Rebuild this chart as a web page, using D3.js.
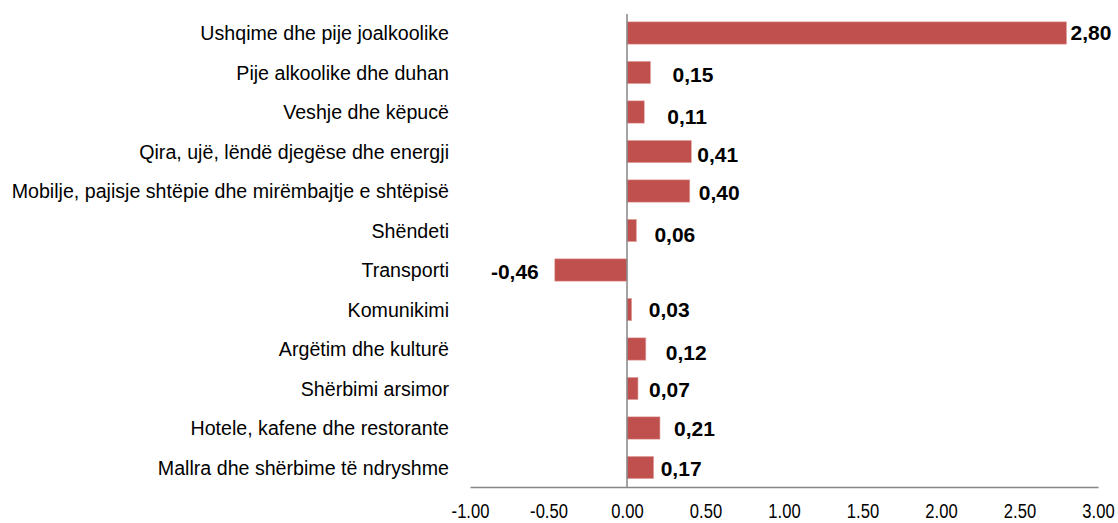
<!DOCTYPE html>
<html lang="sq">
	<head>
		<meta charset="utf-8">
		<title>Kontributi</title>
		<script src="https://cdn.jsdelivr.net/npm/d3@7"></script>
		<style>
			body { margin: 0; background: white; }
			svg { display: block; }
			.cat, .tick text { font-family: "Liberation Sans Narrow", "Arial Narrow", "Liberation Sans", Arial, sans-serif; fill: #000; }
			.val { font-family: "Liberation Sans", Arial, sans-serif; font-weight: bold; font-size: 21px; fill: #000; }
		</style>
	</head>
	<body>
		<script>
			var categories = [
				"Ushqime dhe pije joalkoolike",
				"Pije alkoolike dhe duhan",
				"Veshje dhe këpucë",
				"Qira, ujë, lëndë djegëse dhe energji",
				"Mobilje, pajisje shtëpie dhe mirëmbajtje e shtëpisë",
				"Shëndeti",
				"Transporti",
				"Komunikimi",
				"Argëtim dhe kulturë",
				"Shërbimi arsimor",
				"Hotele, kafene dhe restorante",
				"Mallra dhe shërbime të ndryshme"
			];
			var values = [2.80, 0.15, 0.11, 0.41, 0.40, 0.06, -0.46, 0.03, 0.12, 0.07, 0.21, 0.17];
			var ticks = [-1, -0.5, 0, 0.5, 1, 1.5, 2, 2.5, 3];

			// hand-placed label nudges in the original (dx from bar end, dy from bar middle)
			var nudgeX = [4, 22, 23, 6, 9, 18, -16, 17, 20, 11, 14, 7];
			var nudgeY = [0, 2.5, 5, 3, 2, 4.5, 1.5, 0, 4, 1, 0.5, 1];

			var W = 1118, H = 523;
			var svg = d3.select("body").append("svg")
				.attr("width", W).attr("height", H);

			var x = d3.scaleLinear().domain([-1, 3]).range([470, 1098]);
			var y = d3.scaleBand().domain(categories).range([13.25, 487.25])
				.paddingInner(0.435).paddingOuter(0.2175);

			var fmt = function(v) { return d3.format(".2f")(v).replace("−", "-").replace(".", ","); };

			// bottom axis
			var xAxis = d3.axisBottom(x).tickValues(ticks).tickSize(0).tickPadding(16)
				.tickFormat(function(d) { return d3.format(".2f")(d).replace("−", "-"); });
			var gx = svg.append("g").attr("transform", "translate(0,487)").call(xAxis);
			gx.select(".domain").attr("stroke", "#868686").attr("stroke-width", 1.5);
			gx.selectAll(".tick text")
				.attr("font-size", 21).attr("font-family", null)
				.attr("transform", "scale(0.79,1)");

			// bars
			svg.selectAll("rect.bar").data(values).enter().append("rect")
				.attr("class", "bar")
				.attr("x", function(d) { return x(Math.min(0, d)); })
				.attr("y", function(d, i) { return y(categories[i]); })
				.attr("width", function(d) { return Math.abs(x(d) - x(0)); })
				.attr("height", y.bandwidth())
				.attr("fill", "#c0504d")
				.attr("stroke", "#e3a9a7").attr("stroke-width", 0.6);

			// zero line
			svg.append("line")
				.attr("x1", x(0)).attr("x2", x(0))
				.attr("y1", 14).attr("y2", 487)
				.attr("stroke", "#868686").attr("stroke-width", 1.5);

			// category labels
			svg.selectAll("text.cat").data(categories).enter().append("text")
				.attr("class", "cat")
				.attr("transform", function(d) {
					return "translate(449," + (y(d) + y.bandwidth() / 2) + ") scale(0.935,1)";
				})
				.attr("dy", "0.35em")
				.attr("text-anchor", "end")
				.attr("font-size", 21)
				.text(function(d) { return d; });

			// value labels
			svg.selectAll("text.val").data(values).enter().append("text")
				.attr("class", "val")
				.attr("x", function(d, i) { return x(d) + nudgeX[i]; })
				.attr("y", function(d, i) { return y(categories[i]) + y.bandwidth() / 2 + nudgeY[i]; })
				.attr("dy", "0.35em")
				.attr("text-anchor", function(d) { return d < 0 ? "end" : "start"; })
				.text(fmt);
		</script>
	</body>
</html>
